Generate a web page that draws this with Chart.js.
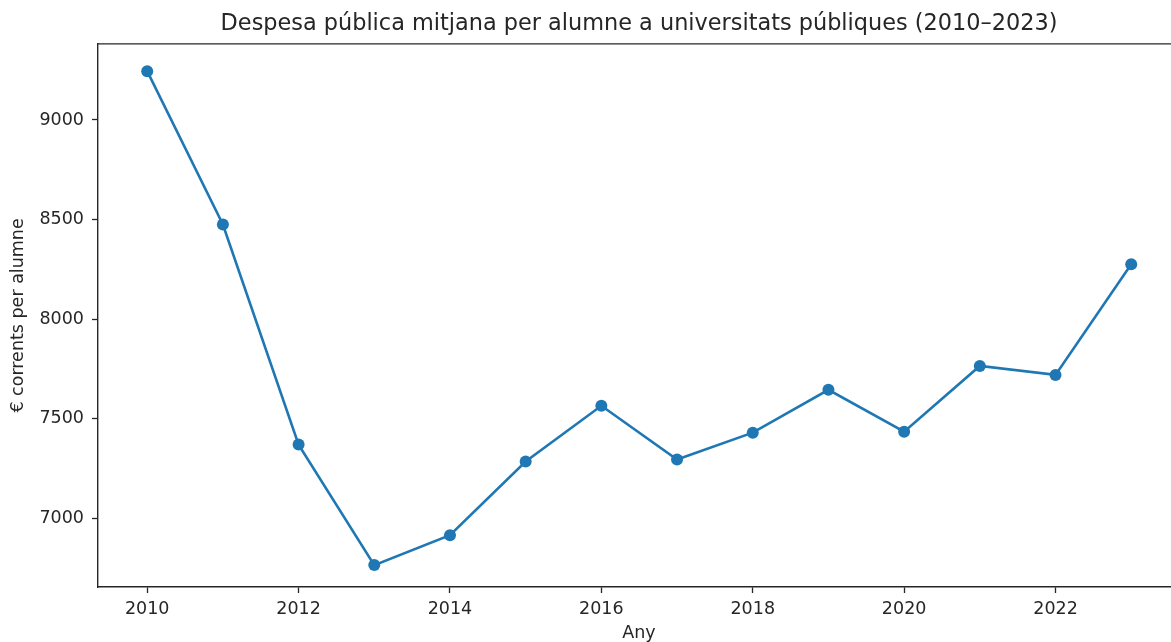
<!DOCTYPE html>
<html lang="ca">
<head>
  <meta charset="UTF-8">
  <title>Despesa pública per alumne</title>
  <script src="https://cdn.jsdelivr.net/npm/chart.js"></script>
  <style>
    html, body { margin: 0; padding: 0; background: #fff; overflow: hidden; }
    #wrap { width: 1278px; height: 642px; }
  </style>
</head>
<body>
  <div id="wrap"><canvas id="chart"></canvas></div>

  <script>
    // dades llegides del gràfic
    var years = [2010, 2011, 2012, 2013, 2014, 2015, 2016, 2017, 2018, 2019, 2020, 2021, 2022, 2023];
    var spending = [9245, 8475, 7370, 6765, 6915, 7285, 7565, 7295, 7430, 7645, 7435, 7765, 7720, 8275];
    var xTicks = [2010, 2012, 2014, 2016, 2018, 2020, 2022];
    var yTicks = [7000, 7500, 8000, 8500, 9000];

    var points = years.map(function (y, i) { return { x: y, y: spending[i] }; });

    var tickFont = { family: 'DejaVu Sans', size: 17.5 };
    var ink = '#262626';

    // línia superior del marc (com matplotlib)
    var topFrame = {
      id: 'topFrame',
      afterDraw: function (chart) {
        var a = chart.chartArea, ctx = chart.ctx;
        ctx.save();
        ctx.strokeStyle = ink;
        ctx.lineWidth = 1.4;
        ctx.beginPath();
        ctx.moveTo(a.left, a.top);
        ctx.lineTo(a.right, a.top);
        ctx.stroke();
        ctx.restore();
      }
    };

    new Chart(document.getElementById('chart'), {
      type: 'line',
      data: {
        datasets: [{
          data: points,
          borderColor: '#1f77b4',
          backgroundColor: '#1f77b4',
          borderWidth: 2.6,
          pointRadius: 6,
          pointHoverRadius: 6,
          pointBorderWidth: 0,
          tension: 0,
          fill: false
        }]
      },
      options: {
        responsive: true,
        maintainAspectRatio: false,
        animation: false,
        layout: { padding: 0 },
        plugins: {
          legend: { display: false },
          tooltip: { enabled: false },
          title: {
            display: true,
            text: 'Despesa pública mitjana per alumne a universitats públiques (2010–2023)',
            color: ink,
            font: { family: 'DejaVu Sans', size: 22.4, weight: 'normal', lineHeight: 1.2 },
            padding: { top: 11, bottom: 6 }
          },
          // títol de l'eix X com a subtítol, per centrar-lo igual que el títol
          subtitle: {
            display: true,
            position: 'bottom',
            text: 'Any',
            color: ink,
            font: { family: 'DejaVu Sans', size: 17.5, weight: 'normal', lineHeight: 1 },
            padding: { top: 0, bottom: 0 }
          }
        },
        scales: {
          x: {
            type: 'linear',
            // l'eix continua fora de la finestra, com a l'original retallat
            min: 2009.35,
            max: 2024.86,
            afterBuildTicks: function (s) { s.ticks = xTicks.map(function (v) { return { value: v }; }); },
            afterFit: function (s) { s.height = 37.5; },
            ticks: {
              color: ink,
              font: tickFont,
              padding: 6,
              callback: function (v) { return String(v); }
            },
            grid: { display: true, drawOnChartArea: false, drawTicks: true, tickLength: 6, tickWidth: 1.3, tickColor: ink },
            border: { display: true, color: ink, width: 1.4 }
          },
          y: {
            min: 6655,
            max: 9382,
            afterBuildTicks: function (s) { s.ticks = yTicks.map(function (v) { return { value: v }; }); },
            afterFit: function (s) { s.width = 98; },
            ticks: {
              color: ink,
              font: tickFont,
              padding: 8,
              callback: function (v) { return String(v); }
            },
            grid: { display: true, drawOnChartArea: false, drawTicks: true, tickLength: 6, tickWidth: 1.3, tickColor: ink },
            border: { display: true, color: ink, width: 1.4 },
            title: {
              display: true,
              text: '€ corrents per alumne',
              color: ink,
              font: { family: 'DejaVu Sans', size: 17.5, lineHeight: 1.2 },
              padding: { top: 8, bottom: 0 }
            }
          }
        }
      },
      plugins: [topFrame]
    });
  </script>
</body>
</html>
